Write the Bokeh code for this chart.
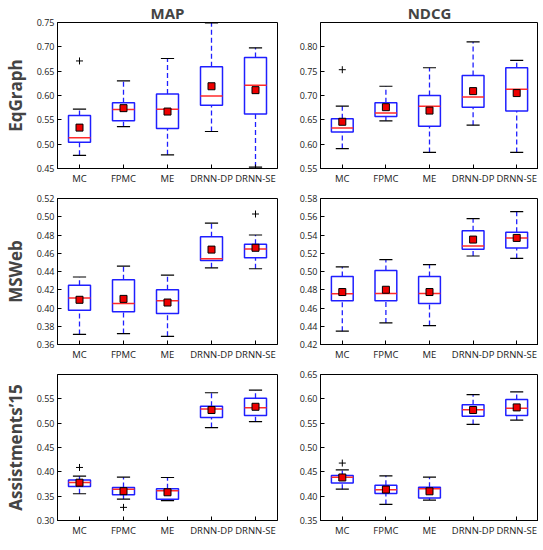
import numpy as np
from bokeh.plotting import figure
from bokeh.layouts import gridplot
from bokeh.models import (Range1d, FixedTicker, SingleIntervalTicker, NumeralTickFormatter)
from bokeh.embed import file_html
from bokeh.resources import INLINE

methods = ["MC", "FPMC", "ME", "DRNN-DP", "DRNN-SE"]
metrics = ["MAP", "NDCG"]
datasets = ["EqGraph", "MSWeb", "Assistments\u201915"]

# ---- EqGraph / MAP
eq_map_low = [0.477, 0.536, 0.478, 0.526, 0.453]
eq_map_q1 = [0.504, 0.548, 0.532, 0.580, 0.562]
eq_map_med = [0.513, 0.571, 0.572, 0.599, 0.621]
eq_map_q3 = [0.559, 0.585, 0.603, 0.659, 0.678]
eq_map_high = [0.572, 0.630, 0.676, 0.749, 0.698]
eq_map_mean = [0.534, 0.574, 0.567, 0.619, 0.611]
eq_map_out_m = ["MC"]
eq_map_out_v = [0.671]

# ---- EqGraph / NDCG
eq_ndcg_low = [0.591, 0.648, 0.583, 0.639, 0.583]
eq_ndcg_q1 = [0.625, 0.657, 0.637, 0.676, 0.668]
eq_ndcg_med = [0.633, 0.664, 0.678, 0.697, 0.713]
eq_ndcg_q3 = [0.652, 0.685, 0.700, 0.741, 0.757]
eq_ndcg_high = [0.678, 0.719, 0.757, 0.810, 0.772]
eq_ndcg_mean = [0.646, 0.676, 0.669, 0.709, 0.705]
eq_ndcg_out_m = ["MC"]
eq_ndcg_out_v = [0.753]

# ---- MSWeb / MAP
ms_map_low = [0.371, 0.372, 0.369, 0.444, 0.443]
ms_map_q1 = [0.3975, 0.396, 0.394, 0.452, 0.455]
ms_map_med = [0.411, 0.405, 0.408, 0.454, 0.4646]
ms_map_q3 = [0.425, 0.431, 0.420, 0.478, 0.470]
ms_map_high = [0.434, 0.446, 0.436, 0.493, 0.480]
ms_map_mean = [0.409, 0.410, 0.406, 0.464, 0.466]
ms_map_out_m = ["DRNN-SE"]
ms_map_out_v = [0.503]

# ---- MSWeb / NDCG
ms_ndcg_low = [0.4346, 0.4436, 0.4407, 0.517, 0.5143]
ms_ndcg_q1 = [0.468, 0.468, 0.465, 0.5243, 0.5257]
ms_ndcg_med = [0.4757, 0.476, 0.476, 0.528, 0.5368]
ms_ndcg_q3 = [0.4946, 0.501, 0.4946, 0.5446, 0.5429]
ms_ndcg_high = [0.505, 0.513, 0.5075, 0.558, 0.5657]
ms_ndcg_mean = [0.4775, 0.480, 0.4775, 0.535, 0.5368]
ms_ndcg_out_m = []
ms_ndcg_out_v = []

# ---- Assistments'15 / MAP
as_map_low = [0.355, 0.344, 0.341, 0.491, 0.503]
as_map_q1 = [0.370, 0.353, 0.3435, 0.5116, 0.5156]
as_map_med = [0.3783, 0.3643, 0.361, 0.529, 0.5317]
as_map_q3 = [0.383, 0.3676, 0.365, 0.535, 0.551]
as_map_high = [0.391, 0.389, 0.3884, 0.5625, 0.568]
as_map_mean = [0.3777, 0.3603, 0.358, 0.527, 0.5337]
as_map_out_m = ["MC", "FPMC"]
as_map_out_v = [0.409, 0.327]

# ---- Assistments'15 / NDCG
as_ndcg_low = [0.4143, 0.383, 0.392, 0.5475, 0.5563]
as_ndcg_q1 = [0.427, 0.4056, 0.3962, 0.5643, 0.5656]
as_ndcg_med = [0.439, 0.413, 0.415, 0.5777, 0.5804]
as_ndcg_q3 = [0.4424, 0.4223, 0.4183, 0.588, 0.5984]
as_ndcg_high = [0.454, 0.4417, 0.439, 0.6085, 0.6145]
as_ndcg_mean = [0.4384, 0.4136, 0.410, 0.577, 0.5824]
as_ndcg_out_m = ["MC"]
as_ndcg_out_v = [0.468]

# axis settings: (min, max, step)
y_axes = [[(0.45, 0.75, 0.05), (0.55, 0.85, 0.05)],
          [(0.36, 0.52, 0.02), (0.42, 0.58, 0.02)],
          [(0.30, 0.60, 0.05), (0.35, 0.65, 0.05)]]

panels = [
    [(eq_map_low, eq_map_q1, eq_map_med, eq_map_q3, eq_map_high, eq_map_mean, eq_map_out_m, eq_map_out_v),
     (eq_ndcg_low, eq_ndcg_q1, eq_ndcg_med, eq_ndcg_q3, eq_ndcg_high, eq_ndcg_mean, eq_ndcg_out_m, eq_ndcg_out_v)],
    [(ms_map_low, ms_map_q1, ms_map_med, ms_map_q3, ms_map_high, ms_map_mean, ms_map_out_m, ms_map_out_v),
     (ms_ndcg_low, ms_ndcg_q1, ms_ndcg_med, ms_ndcg_q3, ms_ndcg_high, ms_ndcg_mean, ms_ndcg_out_m, ms_ndcg_out_v)],
    [(as_map_low, as_map_q1, as_map_med, as_map_q3, as_map_high, as_map_mean, as_map_out_m, as_map_out_v),
     (as_ndcg_low, as_ndcg_q1, as_ndcg_med, as_ndcg_q3, as_ndcg_high, as_ndcg_mean, as_ndcg_out_m, as_ndcg_out_v)],
]

FONT = "Open Sans"
BLUE = "#1f1fff"
RED = "#ff2a2a"

xpos = np.arange(1, len(methods) + 1, dtype=float)
ticks_x = list(xpos)
overrides = {float(i + 1): m for i, m in enumerate(methods)}


def style_axis(ax):
    ax.major_tick_in = 4
    ax.major_tick_out = 0
    ax.minor_tick_line_color = None
    ax.axis_line_color = "black"
    ax.major_tick_line_color = "black"


def make_panel(r, c):
    low, q1, med, q3, high, mean, out_m, out_v = panels[r][c]
    ymin, ymax, step = y_axes[r][c]
    left = c == 0
    p = figure(frame_width=220 if left else 218, frame_height=146,
               output_backend="svg", toolbar_location=None,
               x_range=Range1d(0.5, len(methods) + 0.5), y_range=Range1d(ymin, ymax),
               min_border_left=52 if left else 41, min_border_right=2 if left else 0,
               min_border_top=16 if r == 0 else 6,
               min_border_bottom=16 if r == 2 else 24,
               background_fill_color="white", border_fill_color="white")
    p.grid.visible = False
    p.outline_line_color = "black"
    p.outline_line_width = 1

    if r == 0:
        p.title.text = metrics[c]
        p.title.align = "center"
        p.title.text_font = FONT
        p.title.text_font_size = "15px"
        p.title.text_font_style = "bold"
        p.title.standoff = 0
        p.title.offset = 0

    xa = p.xaxis[0]
    xa.ticker = FixedTicker(ticks=ticks_x)
    xa.major_label_overrides = overrides
    xa.major_label_text_font = FONT
    xa.major_label_text_font_size = "9.5px"
    xa.major_label_text_color = "#222222"
    xa.major_label_standoff = 3
    style_axis(xa)

    ya = p.yaxis[0]
    ya.ticker = SingleIntervalTicker(interval=step, num_minor_ticks=0)
    ya.formatter = NumeralTickFormatter(format="0.00")
    ya.major_label_text_font = FONT
    ya.major_label_text_font_size = "9px"
    ya.major_label_text_color = "#222222"
    ya.major_label_standoff = 3
    style_axis(ya)
    if left:
        ya.axis_label = datasets[r]
        ya.axis_label_text_font = FONT
        ya.axis_label_text_font_size = "17px"
        ya.axis_label_text_font_style = "bold"
        ya.axis_label_standoff = 7

    # boxes
    p.segment(x0=xpos, x1=xpos, y0=q3, y1=high, line_color=BLUE, line_width=1.3, line_dash="5 3")
    p.segment(x0=xpos, x1=xpos, y0=low, y1=q1, line_color=BLUE, line_width=1.3, line_dash="5 3")
    p.segment(x0=xpos - 0.15, x1=xpos + 0.15, y0=high, y1=high, line_color="black", line_width=1.2)
    p.segment(x0=xpos - 0.15, x1=xpos + 0.15, y0=low, y1=low, line_color="black", line_width=1.2)
    p.vbar(x=xpos, bottom=q1, top=q3, width=0.5, fill_color="white", line_color=BLUE, line_width=1.5)
    p.segment(x0=xpos - 0.25, x1=xpos + 0.25, y0=med, y1=med, line_color=RED, line_width=1.5)
    p.scatter(x=xpos, y=mean, marker="square", size=7, fill_color="#ee0000", line_color="black", line_width=1)
    if out_m:
        ox = [methods.index(m) + 1.0 for m in out_m]
        p.scatter(x=ox, y=out_v, marker="cross", size=7, line_color="black", line_width=1)
    return p


grid = [[make_panel(r, c) for c in range(2)] for r in range(3)]
layout = gridplot(grid, toolbar_location=None)

open("out.html", "w").write(file_html(layout, INLINE))
